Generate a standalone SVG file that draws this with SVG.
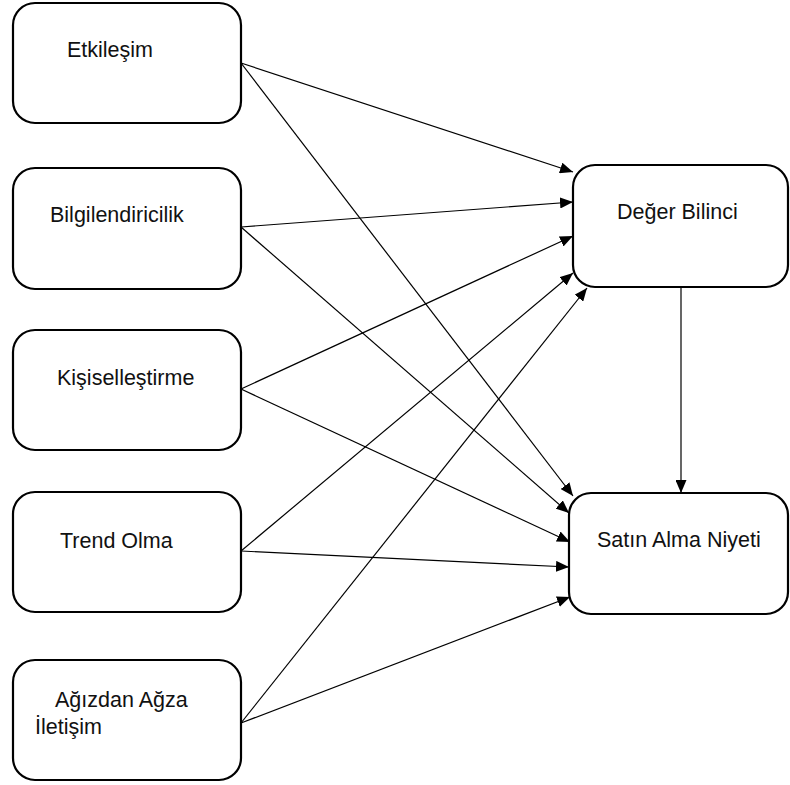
<svg xmlns="http://www.w3.org/2000/svg" width="790" height="785" viewBox="0 0 790 785">
<defs>
<marker id="ah" markerUnits="userSpaceOnUse" markerWidth="13" markerHeight="11" refX="13" refY="5.5" orient="auto">
<path d="M0,0 L13,5.5 L0,11 z" fill="#000"/>
</marker>
<style>
.box{fill:#fff;stroke:#000;stroke-width:2.2}
.lbl{font-family:"Liberation Sans",Arial,sans-serif;font-size:21.5px;fill:#111}
.cn line{stroke:#000;stroke-width:1.2;marker-end:url(#ah)}
</style>
</defs>
<rect width="790" height="785" fill="#fff"/>
<g id="connectors" class="cn">
<line x1="241" y1="63" x2="573" y2="172"/>
<line x1="241" y1="227" x2="573" y2="202"/>
<line x1="241" y1="389" x2="573" y2="236"/>
<line x1="241" y1="551" x2="573" y2="273"/>
<line x1="241" y1="723" x2="587" y2="288"/>
<line x1="241" y1="63" x2="573" y2="496"/>
<line x1="241" y1="227" x2="569" y2="513"/>
<line x1="241" y1="389" x2="570" y2="542"/>
<line x1="241" y1="551" x2="569" y2="567"/>
<line x1="241" y1="723" x2="570" y2="597"/>
<line x1="681" y1="287" x2="681" y2="493"/>
</g>
<g id="etkilesim"><rect class="box" x="13" y="3" width="228" height="120" rx="22"/><text class="lbl" x="67" y="57">Etkileşim</text></g>
<g id="bilgilendiricilik"><rect class="box" x="13" y="168" width="228" height="121" rx="22"/><text class="lbl" x="50" y="222">Bilgilendiricilik</text></g>
<g id="kisisellestirme"><rect class="box" x="13" y="330" width="228" height="120" rx="22"/><text class="lbl" x="57" y="385">Kişiselleştirme</text></g>
<g id="trend"><rect class="box" x="13" y="492" width="228" height="120" rx="22"/><text class="lbl" x="60" y="548">Trend Olma</text></g>
<g id="agizdan"><rect class="box" x="13" y="660" width="228" height="120" rx="22"/><text class="lbl" x="55" y="707">Ağızdan Ağza</text><text class="lbl" x="35" y="734">İletişim</text></g>
<g id="deger"><rect class="box" x="573" y="165" width="215" height="122" rx="22"/><text class="lbl" x="617" y="219">Değer Bilinci</text></g>
<g id="satin"><rect class="box" x="569" y="493" width="219" height="121" rx="22"/><text class="lbl" x="597" y="547">Satın Alma Niyeti</text></g>
</svg>
